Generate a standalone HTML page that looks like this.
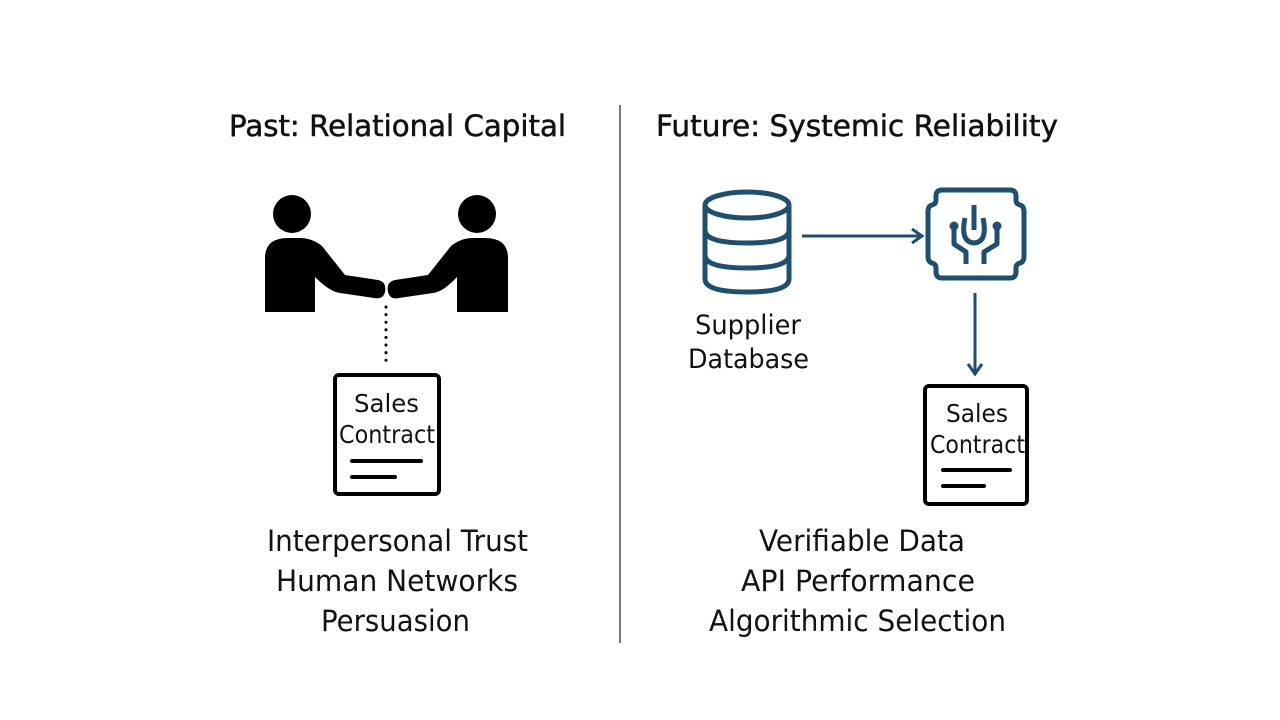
<!DOCTYPE html>
<html><head><style>
body{margin:0;background:#fff}
svg{display:block}
text{font-family:"DejaVu Sans","Liberation Sans",sans-serif;fill:#111}
</style></head><body>
<svg width="1280" height="720" viewBox="0 0 1280 720" xmlns="http://www.w3.org/2000/svg">
<rect width="1280" height="720" fill="#fff"/>
<line x1="620" y1="105" x2="620" y2="643" stroke="#777" stroke-width="2"/>
<text x="229" y="136" font-size="29" textLength="337" lengthAdjust="spacingAndGlyphs" stroke="#111" stroke-width="0.5">Past: Relational Capital</text>
<text x="656" y="136" font-size="29" textLength="402" lengthAdjust="spacingAndGlyphs" stroke="#111" stroke-width="0.5">Future: Systemic Reliability</text>
<!-- people -->
<circle cx="292" cy="214" r="19" fill="#000"/>
<circle cx="477" cy="214" r="19" fill="#000"/>
<path d="M265 312 V258 Q265 238 288 238 H300 Q312 238 322 246 L345 275 L378 280 Q387 282 385 292 Q383 300 374 298 L340 293 Q330 292 315 277 V312 Z" fill="#000"/>
<path d="M508 312 V258 Q508 238 485 238 H473 Q461 238 451 246 L428 275 L395 280 Q386 282 388 292 Q390 300 399 298 L433 293 Q443 292 457 277 V312 Z" fill="#000"/>
<line x1="386" y1="307" x2="386" y2="362" stroke="#000" stroke-width="3" stroke-dasharray="0.1,7.5" stroke-linecap="round"/>
<!-- left contract -->
<rect x="335" y="375" width="104" height="119" rx="4" fill="#fff" stroke="#000" stroke-width="4"/>
<text x="354" y="412" font-size="25" textLength="65" lengthAdjust="spacingAndGlyphs">Sales</text>
<text x="339" y="443" font-size="25" textLength="96" lengthAdjust="spacingAndGlyphs">Contract</text>
<line x1="352" y1="461" x2="421" y2="461" stroke="#000" stroke-width="4" stroke-linecap="round"/>
<line x1="352" y1="477" x2="395" y2="477" stroke="#000" stroke-width="4" stroke-linecap="round"/>
<!-- database -->
<g fill="none" stroke="#1f4e6e" stroke-width="5">
<ellipse cx="747" cy="205" rx="42" ry="13"/>
<path d="M705 205 V279 Q705 292 747 292 Q789 292 789 279 V205"/>
<path d="M705 230 Q705 243 747 243 Q789 243 789 230"/>
<path d="M705 255 Q705 268 747 268 Q789 268 789 255"/>
</g>
<line x1="802" y1="236" x2="920" y2="236" stroke="#1f4e6e" stroke-width="3"/>
<path d="M912 229 L922 236 L912 243" fill="none" stroke="#1f4e6e" stroke-width="3"/>
<!-- chip -->
<g fill="none" stroke="#1f4e6e" stroke-width="5" stroke-linejoin="round">
<path d="M942 190 H1010 Q1016 190 1016 196 V200 Q1016 204 1020 205 Q1024 206 1024 212 V256 Q1024 262 1020 263 Q1016 264 1016 268 V272 Q1016 278 1010 278 H942 Q936 278 936 272 V268 Q936 264 932 263 Q928 262 928 256 V212 Q928 206 932 205 Q936 204 936 200 V196 Q936 190 942 190 Z"/>
<path d="M974 205 V230"/>
<path d="M965 218 Q960 242 974 243 Q988 242 983 218"/>
<path d="M954 226 V244 L966 252 V264"/>
<path d="M997 226 V244 L984 252 V264"/>
</g>
<circle cx="954" cy="226" r="4.5" fill="#1f4e6e"/>
<circle cx="997" cy="226" r="4.5" fill="#1f4e6e"/>
<line x1="975" y1="293" x2="975" y2="372" stroke="#1f4e6e" stroke-width="3"/>
<path d="M968 364 L975 374 L982 364" fill="none" stroke="#1f4e6e" stroke-width="3"/>
<text x="695" y="334" font-size="27" textLength="106" lengthAdjust="spacingAndGlyphs">Supplier</text>
<text x="688" y="368" font-size="27" textLength="121" lengthAdjust="spacingAndGlyphs">Database</text>
<!-- right contract -->
<rect x="925" y="386" width="102" height="118" rx="4" fill="#fff" stroke="#000" stroke-width="4"/>
<text x="946" y="422" font-size="25" textLength="62" lengthAdjust="spacingAndGlyphs">Sales</text>
<text x="930" y="453" font-size="25" textLength="95" lengthAdjust="spacingAndGlyphs">Contract</text>
<line x1="943" y1="470" x2="1010" y2="470" stroke="#000" stroke-width="4" stroke-linecap="round"/>
<line x1="943" y1="486" x2="984" y2="486" stroke="#000" stroke-width="4" stroke-linecap="round"/>
<!-- bottom text -->
<g font-size="29">
<text x="267" y="551" textLength="261" lengthAdjust="spacingAndGlyphs">Interpersonal Trust</text>
<text x="276" y="591" textLength="242" lengthAdjust="spacingAndGlyphs">Human Networks</text>
<text x="321" y="631" textLength="149" lengthAdjust="spacingAndGlyphs">Persuasion</text>
<text x="759" y="551" textLength="206" lengthAdjust="spacingAndGlyphs">Verifiable Data</text>
<text x="741" y="591" textLength="234" lengthAdjust="spacingAndGlyphs">API Performance</text>
<text x="709" y="631" textLength="297" lengthAdjust="spacingAndGlyphs">Algorithmic Selection</text>
</g>
</svg>
</body></html>
